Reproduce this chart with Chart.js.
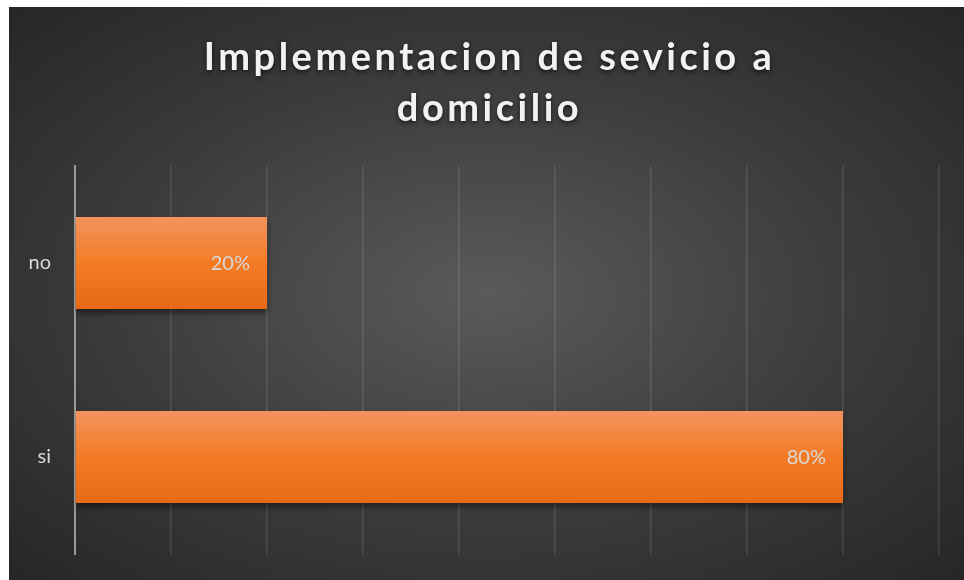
<!DOCTYPE html>
<html>
<head>
<meta charset="utf-8">
<script src="https://cdn.jsdelivr.net/npm/chart.js@4"></script>
<style>
  html, body { margin: 0; padding: 0; background: #fff; }
  .chart-wrapper {
    position: absolute; left: 9px; top: 7px; width: 955px; height: 573px;
    background: radial-gradient(ellipse farthest-corner at 50% 50%, #5a5a5a 0%, #3b3b3b 55%, #262626 100%);
  }
</style>
</head>
<body>
<div class="chart-wrapper"><canvas id="myChart" width="955" height="573"></canvas></div>
<script>
const titleLines = ['Implementacion de sevicio a', 'domicilio'];
const categories = ['no', 'si'];
const values = [0.2, 0.8];
const axisMax = 0.9;
const axisStep = 0.1;

const ctx = document.getElementById('myChart');

// bar fill: vertical orange gradient per bar
function barFill(c) {
  const chart = c.chart;
  const y = chart.scales.y;
  if (!y || c.dataIndex === undefined) return '#f47b25';
  const mid = y.getPixelForTick(c.dataIndex);
  const half = (y.height / categories.length) * 0.474 / 2;
  if (!isFinite(mid) || !isFinite(half) || half <= 0) return '#f47b25';
  const g = chart.ctx.createLinearGradient(0, mid - half, 0, mid + half);
  g.addColorStop(0, '#f3935e');
  g.addColorStop(0.5, '#f47b25');
  g.addColorStop(1, '#e76917');
  return g;
}

const titlePlugin = {
  id: 'bigTitle',
  afterDraw(chart) {
    const c = chart.ctx;
    c.save();
    c.font = 'bold 38px Lato';
    c.letterSpacing = '3.5px';
    c.textAlign = 'center';
    c.textBaseline = 'alphabetic';
    c.fillStyle = '#f2f2f2';
    c.shadowColor = 'rgba(0,0,0,0.65)';
    c.shadowBlur = 5;
    c.shadowOffsetY = 2;
    const cx = chart.width / 2 + 3;
    c.fillText(titleLines[0], cx, 63);
    c.fillText(titleLines[1], cx, 114);
    c.restore();
  }
};

const shadowPlugin = {
  id: 'barShadow',
  beforeDatasetsDraw(chart) {
    const c = chart.ctx;
    c.save();
    c.shadowColor = 'rgba(0,0,0,0.45)';
    c.shadowBlur = 6;
    c.shadowOffsetY = 4;
  },
  afterDatasetsDraw(chart) {
    chart.ctx.restore();
  }
};

const labelPlugin = {
  id: 'barLabels',
  afterDatasetsDraw(chart) {
    const c = chart.ctx;
    const meta = chart.getDatasetMeta(0);
    c.save();
    c.font = '20px Lato';
    c.fillStyle = '#d9d9d9';
    c.textAlign = 'right';
    c.textBaseline = 'middle';
    meta.data.forEach((bar, i) => {
      c.fillText(Math.round(values[i] * 100) + '%', bar.x - 17, bar.y + 1);
    });
    c.restore();
  }
};

new Chart(ctx, {
  type: 'bar',
  data: {
    labels: categories,
    datasets: [{
      data: values,
      backgroundColor: barFill,
      borderWidth: 0,
      barPercentage: 0.79,
      categoryPercentage: 0.6,
    }],
  },
  options: {
    indexAxis: 'y',
    responsive: false,
    animation: false,
    layout: { padding: { top: 159, right: 25, bottom: 26, left: 0 } },
    plugins: { legend: { display: false }, title: { display: false }, tooltip: { enabled: false } },
    scales: {
      x: {
        min: 0,
        max: axisMax,
        ticks: { display: false, stepSize: axisStep },
        grid: {
          drawTicks: false,
          color: (c) => (c.index === 0 ? 'rgba(0,0,0,0)' : 'rgba(255,255,255,0.12)'),
          lineWidth: 1.5,
        },
        border: { display: false },
      },
      y: {
        afterFit(scale) {
          scale.width = 66;
          scale.paddingTop = 0;
          scale.paddingBottom = 0;
        },
        ticks: { color: '#d9d9d9', font: { family: 'Lato', size: 20 }, padding: 24 },
        grid: { display: false, drawTicks: false },
        border: { display: true, color: '#9a9a9a', width: 2 },
      },
    },
  },
  plugins: [shadowPlugin, labelPlugin, titlePlugin],
});
</script>
</body>
</html>
